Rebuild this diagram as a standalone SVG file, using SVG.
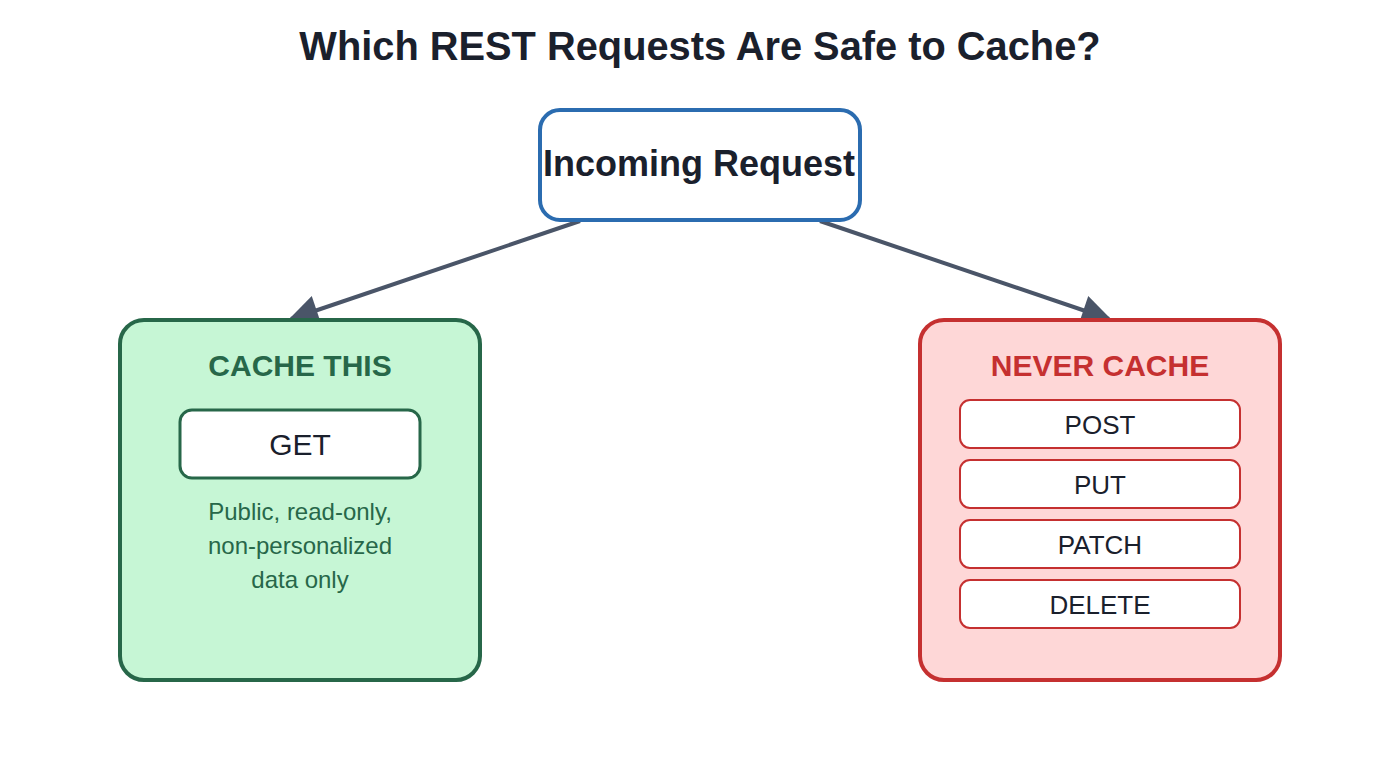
<svg xmlns="http://www.w3.org/2000/svg" width="1400" height="760" viewBox="0 0 1400 760">
<defs>
<style>
text{font-family:"Liberation Sans",Arial,sans-serif;text-anchor:middle}
.title{font-size:39.8px;font-weight:bold;fill:#1a202c}
.start{font-size:36px;font-weight:bold;fill:#1a202c}
.head{font-size:30px;font-weight:bold}
.item{font-size:26px;fill:#1a202c}
.desc{font-size:24px;fill:#276749}
.conn{stroke:#4a5568;stroke-width:4;fill:none}
</style>
<marker id="arr" viewBox="0 0 10 10" refX="9" refY="5" markerWidth="8.5" markerHeight="7.5" markerUnits="strokeWidth" orient="auto">
<path d="M0,0 L10,5 L0,10 z" fill="#4a5568"/>
</marker>
</defs>
<rect width="1400" height="760" fill="#ffffff"/>
<text class="title" x="700" y="60">Which REST Requests Are Safe to Cache?</text>
<g id="connectors">
<line class="conn" x1="580" y1="221" x2="291" y2="319" marker-end="url(#arr)"/>
<line class="conn" x1="820" y1="221" x2="1109" y2="319" marker-end="url(#arr)"/>
</g>
<g id="incoming">
<rect x="540" y="110" width="320" height="110" rx="20" fill="#ffffff" stroke="#2b6cb0" stroke-width="4"/>
<text class="start" x="699" y="176">Incoming Request</text>
</g>
<g id="cache">
<rect x="120" y="320" width="360" height="360" rx="24" fill="#c6f6d5" stroke="#276749" stroke-width="4"/>
<text class="head" x="300" y="376" fill="#276749">CACHE THIS</text>
<rect x="180" y="410" width="240" height="68" rx="12" fill="#ffffff" stroke="#276749" stroke-width="3"/>
<text x="300" y="455" font-size="30" fill="#1a202c">GET</text>
<text class="desc" x="300" y="520">Public, read-only,</text>
<text class="desc" x="300" y="554">non-personalized</text>
<text class="desc" x="300" y="588">data only</text>
</g>
<g id="never">
<rect x="920" y="320" width="360" height="360" rx="24" fill="#fed7d7" stroke="#c53030" stroke-width="4"/>
<text class="head" x="1100" y="376" fill="#c53030">NEVER CACHE</text>
<rect x="960" y="400" width="280" height="48" rx="10" fill="#ffffff" stroke="#c53030" stroke-width="2"/>
<text class="item" x="1100" y="434">POST</text>
<rect x="960" y="460" width="280" height="48" rx="10" fill="#ffffff" stroke="#c53030" stroke-width="2"/>
<text class="item" x="1100" y="494">PUT</text>
<rect x="960" y="520" width="280" height="48" rx="10" fill="#ffffff" stroke="#c53030" stroke-width="2"/>
<text class="item" x="1100" y="554">PATCH</text>
<rect x="960" y="580" width="280" height="48" rx="10" fill="#ffffff" stroke="#c53030" stroke-width="2"/>
<text class="item" x="1100" y="614">DELETE</text>
</g>
</svg>
